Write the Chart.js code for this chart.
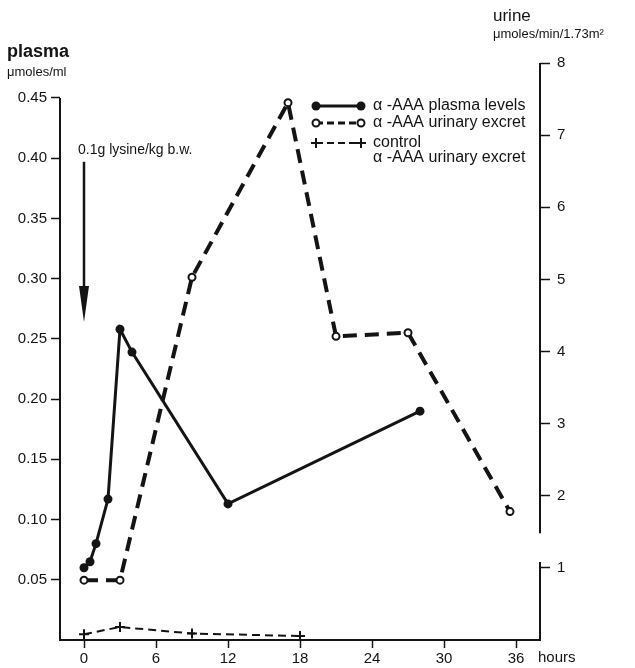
<!DOCTYPE html>
<html>
<head>
<meta charset="utf-8">
<script src="https://cdn.jsdelivr.net/npm/chart.js@4.4.1/dist/chart.umd.min.js"></script>
<style>
  html, body { margin: 0; padding: 0; background: #fff; }
  canvas { display: block; }
</style>
</head>
<body>
<canvas id="chart" width="635" height="668"></canvas>
<script>
// alpha-AAA after an oral lysine load (0.1 g/kg b.w.)
const plasmaHours   = [0, 0.5, 1, 2, 3, 4, 12, 28];
const plasmaLevels  = [0.06, 0.065, 0.08, 0.117, 0.258, 0.239, 0.113, 0.19];   // umoles/ml
const urineHours    = [0, 3, 9, 17, 21, 27, 35.5];
const urineExcret   = [0.83, 0.83, 5.03, 7.45, 4.21, 4.26, 1.78];            // umoles/min/1.73m2
const controlHours  = [0, 3, 9, 18];
const controlExcret = [0.08, 0.18, 0.09, 0.055];

const hourTicks   = [0, 6, 12, 18, 24, 30, 36];
const plasmaTicks = [0.05, 0.10, 0.15, 0.20, 0.25, 0.30, 0.35, 0.40, 0.45];
const urineTicks  = [1, 2, 3, 4, 5, 6, 7, 8];

const legendLabels = [
  ["α -AAA plasma levels"],
  ["α -AAA urinary excret"],
  ["control", "α -AAA urinary excret"],
];

const INK  = "#141414";
const FONT = '"Liberation Sans", Arial, sans-serif';

function pts(xs, ys) {
  return xs.map((x, i) => ({ x: x, y: ys[i] }));
}

function hasTick(list, v) {
  return list.some((t) => Math.abs(t - v) < 1e-6);
}

function drawMarker(ctx, kind, x, y) {
  ctx.save();
  ctx.setLineDash([]);
  ctx.strokeStyle = INK;
  ctx.fillStyle = INK;
  if (kind === "dot") {
    ctx.beginPath(); ctx.arc(x, y, 4.5, 0, Math.PI * 2); ctx.fill();
  } else if (kind === "ring") {
    ctx.fillStyle = "#fff"; ctx.lineWidth = 2;
    ctx.beginPath(); ctx.arc(x, y, 3.5, 0, Math.PI * 2); ctx.fill(); ctx.stroke();
  } else {
    ctx.lineWidth = 2;
    ctx.beginPath();
    ctx.moveTo(x - 5, y); ctx.lineTo(x + 5, y);
    ctx.moveTo(x, y - 5); ctx.lineTo(x, y + 5);
    ctx.stroke();
  }
  ctx.restore();
}

const markerKinds = ["dot", "ring", "cross"];

const overlay = {
  id: "overlay",
  afterDraw(chart) {
    const ctx = chart.ctx;
    const xs = chart.scales.x, yl = chart.scales.yPlasma, yr = chart.scales.yUrine;
    const left = chart.chartArea.left, right = chart.chartArea.right;

    ctx.save();
    ctx.strokeStyle = INK;
    ctx.fillStyle = INK;
    ctx.lineWidth = 2;

    // left axis stops at 0.45
    ctx.beginPath();
    ctx.moveTo(left, yl.getPixelForValue(0));
    ctx.lineTo(left, yl.getPixelForValue(0.45));
    ctx.stroke();

    // right axis with a break just above 1
    ctx.beginPath();
    ctx.moveTo(right, yr.getPixelForValue(0));
    ctx.lineTo(right, yr.getPixelForValue(1.08));
    ctx.moveTo(right, yr.getPixelForValue(1.48));
    ctx.lineTo(right, yr.getPixelForValue(8));
    ctx.stroke();

    // lysine dose arrow
    const ax = xs.getPixelForValue(0);
    const aTop = yl.getPixelForValue(0.397);
    const aTip = yl.getPixelForValue(0.264);
    ctx.lineWidth = 2.5;
    ctx.beginPath(); ctx.moveTo(ax, aTop); ctx.lineTo(ax, aTip - 30); ctx.stroke();
    ctx.beginPath();
    ctx.moveTo(ax - 5, aTip - 36); ctx.lineTo(ax + 5, aTip - 36); ctx.lineTo(ax, aTip);
    ctx.closePath(); ctx.fill();

    ctx.font = "14px " + FONT;
    ctx.textBaseline = "middle";
    ctx.textAlign = "left";
    ctx.fillText("0.1g lysine/kg b.w.", ax - 6, aTop - 12);

    // axis titles
    ctx.font = "bold 18px " + FONT;
    ctx.fillText("plasma", 7, 52);
    ctx.font = "13px " + FONT;
    ctx.fillText("μmoles/ml", 7, 72);
    ctx.font = "17px " + FONT;
    ctx.fillText("urine", 493, 16);
    ctx.font = "13px " + FONT;
    ctx.fillText("μmoles/min/1.73m²", 493, 34);

    ctx.font = "15px " + FONT;
    ctx.fillText("hours", right - 2, 658);

    // legend inside plot, top right
    const lx0 = 316, lx1 = 361, tx = 373;
    const rows = [106, 123, 143];
    chart.data.datasets.forEach((ds, i) => {
      const y = rows[i];
      ctx.save();
      ctx.lineWidth = ds.borderWidth > 3 ? 3 : ds.borderWidth;
      ctx.setLineDash(ds.borderDash ? [7, 4] : []);
      ctx.beginPath(); ctx.moveTo(lx0, y); ctx.lineTo(lx1, y); ctx.stroke();
      ctx.restore();
      drawMarker(ctx, markerKinds[i], lx0, y);
      drawMarker(ctx, markerKinds[i], lx1, y);
      ctx.font = "16px " + FONT;
      legendLabels[i].forEach((line, k) => ctx.fillText(line, tx, y + k * 15));
    });

    ctx.restore();
  },
  afterDatasetsDraw(chart) {
    // markers on top of the lines
    const ctx = chart.ctx;
    chart.data.datasets.forEach((ds, i) => {
      const meta = chart.getDatasetMeta(i);
      meta.data.forEach((p) => drawMarker(ctx, markerKinds[i], p.x, p.y));
    });
  },
};

const tickFont = { family: FONT, size: 15 };

new Chart(document.getElementById("chart"), {
  type: "line",
  data: {
    datasets: [
      {
        label: "α-AAA plasma levels",
        data: pts(plasmaHours, plasmaLevels),
        yAxisID: "yPlasma",
        borderColor: INK,
        borderWidth: 3,
        pointRadius: 0,
        tension: 0,
      },
      {
        label: "α-AAA urinary excret",
        data: pts(urineHours, urineExcret),
        yAxisID: "yUrine",
        borderColor: INK,
        borderWidth: 4,
        borderDash: [14, 8],
        pointRadius: 0,
        tension: 0,
      },
      {
        label: "control α-AAA urinary excret",
        data: pts(controlHours, controlExcret),
        yAxisID: "yUrine",
        borderColor: INK,
        borderWidth: 2,
        borderDash: [8, 5],
        pointRadius: 0,
        tension: 0,
      },
    ],
  },
  options: {
    responsive: false,
    animation: false,
    layout: { padding: { top: 63, left: 0, right: 0, bottom: 0 } },
    plugins: { legend: { display: false }, tooltip: { enabled: false } },
    scales: {
      x: {
        type: "linear",
        min: -2,
        max: 38,
        afterFit: (s) => { s.height = 28; },
        border: { display: true, color: INK, width: 2 },
        grid: { drawOnChartArea: false, tickLength: 8, tickColor: INK, tickWidth: 1.5 },
        ticks: {
          stepSize: 6,
          includeBounds: false,
          padding: 2,
          color: INK,
          font: tickFont,
          maxRotation: 0,
          callback: (v) => (hasTick(hourTicks, v) ? String(v) : ""),
        },
      },
      yPlasma: {
        type: "linear",
        position: "left",
        min: 0,
        max: 0.479,
        afterFit: (s) => { s.width = 60; },
        border: { display: false },
        grid: {
          drawOnChartArea: false,
          tickLength: 9,
          tickWidth: 1.5,
          tickColor: (c) => (c.tick && hasTick(plasmaTicks, c.tick.value) ? INK : "rgba(0,0,0,0)"),
        },
        ticks: {
          stepSize: 0.05,
          includeBounds: false,
          padding: 4,
          color: INK,
          font: tickFont,
          callback: (v) => (hasTick(plasmaTicks, v) ? v.toFixed(2) : ""),
        },
      },
      yUrine: {
        type: "linear",
        position: "right",
        min: 0,
        max: 8,
        afterFit: (s) => { s.width = 95; },
        border: { display: false },
        grid: {
          drawOnChartArea: false,
          tickLength: 10,
          tickWidth: 1.5,
          tickColor: (c) => (c.tick && hasTick(urineTicks, c.tick.value) ? INK : "rgba(0,0,0,0)"),
        },
        ticks: {
          stepSize: 1,
          includeBounds: false,
          padding: 7,
          color: INK,
          font: tickFont,
          callback: (v) => (hasTick(urineTicks, v) ? String(v) : ""),
        },
      },
    },
  },
  plugins: [overlay],
});
</script>
</body>
</html>
